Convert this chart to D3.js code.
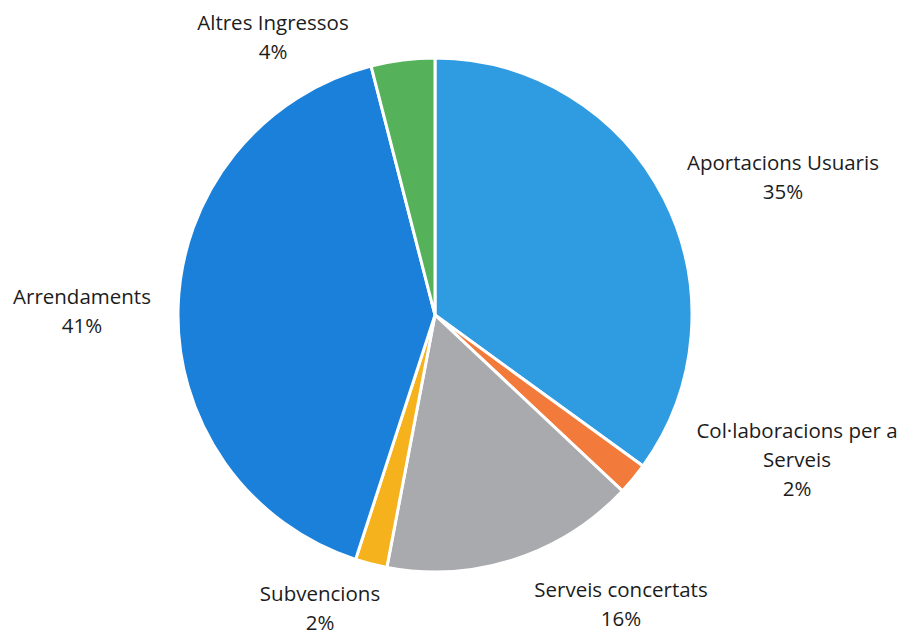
<!DOCTYPE html>
<meta charset="utf-8">
<script src="https://d3js.org/d3.v7.min.js"></script>
<style>
  body { margin: 0; background: #fff; }
</style>
<div id="my_dataviz"></div>
<script>

// data
var categories = ["Aportacions Usuaris", "Col·laboracions per a Serveis", "Serveis concertats", "Subvencions", "Arrendaments", "Altres Ingressos"];
var values = [35, 2, 16, 2, 41, 4];
var labelLines = [
  ["Aportacions Usuaris", "35%"],
  ["Col·laboracions per a", "Serveis", "2%"],
  ["Serveis concertats", "16%"],
  ["Subvencions", "2%"],
  ["Arrendaments", "41%"],
  ["Altres Ingressos", "4%"]
];
var colors = ["#2f9ce2", "#f27a3a", "#a9aaae", "#f6b21c", "#1a80da", "#55b25a"];

// where Excel put each label (centre x, first baseline y)
var labelPos = [[783, 170], [797, 438], [621, 597], [320, 601], [82, 304], [273, 30]];

var width = 905, height = 635;
var cx = 435, cy = 315, radius = 257;

var svg = d3.select("#my_dataviz")
  .append("svg")
    .attr("width", width)
    .attr("height", height);

var g = svg.append("g")
    .attr("transform", "translate(" + cx + "," + cy + ")");

var pie = d3.pie().sort(null).value(function(d) { return d; });
var arc = d3.arc().innerRadius(0).outerRadius(radius);

g.selectAll("path")
  .data(pie(values))
  .enter()
  .append("path")
    .attr("d", arc)
    .attr("fill", function(d, i) { return colors[i]; })
    .attr("stroke", "#fff")
    .attr("stroke-width", 3)
    .attr("stroke-linejoin", "round");

// labels
var lineH = 29;
labelLines.forEach(function(lines, i) {
  var t = svg.append("text")
    .attr("text-anchor", "middle")
    .attr("font-family", "'Open Sans', sans-serif")
    .attr("font-size", 20.5)
    .attr("fill", "#1c1c1c");
  lines.forEach(function(s, j) {
    t.append("tspan")
      .attr("x", labelPos[i][0])
      .attr("y", labelPos[i][1] + j * lineH)
      .text(s);
  });
});

</script>
